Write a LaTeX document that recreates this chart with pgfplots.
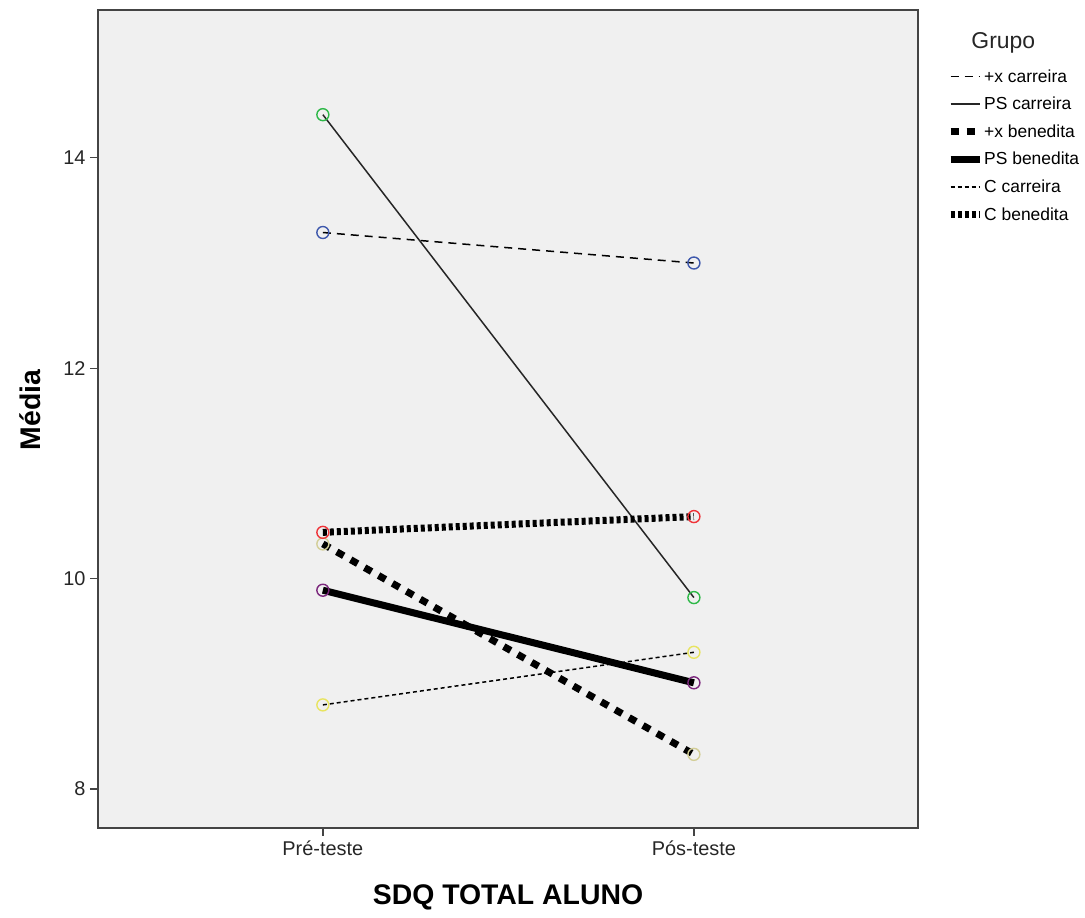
\documentclass[border=0pt]{standalone}
\usepackage{fontspec}
\setmainfont{Liberation Sans}
\usepackage{pgfplots}
\pgfplotsset{compat=1.18}
\definecolor{bgc}{HTML}{F0F0F0}
\definecolor{cblue}{HTML}{3E58AC}
\definecolor{cgreen}{HTML}{2EB848}
\definecolor{cbeige}{HTML}{D3CE97}
\definecolor{cpurple}{HTML}{7C287D}
\definecolor{cyellow}{HTML}{E8E460}
\definecolor{cred}{HTML}{EF3338}
\definecolor{axc}{HTML}{444444}
\begin{document}
\begin{tikzpicture}[x=1bp,y=1bp]
\path[use as bounding box] (0,0) rectangle (1085,918);
\begin{axis}[
  at={(98bp,90bp)}, anchor=south west, scale only axis,
  width=820bp, height=818bp,
  xmin=-0.606, xmax=1.604, ymin=7.63, ymax=15.405,
  xtick={0,1}, xticklabels={Pré-teste,Pós-teste},
  ytick={8,10,12,14},
  xtick pos=bottom, ytick pos=left,
  tick align=outside, major tick length=8bp,
  tick style={line width=1.3bp, color=axc},
  axis line style={line width=1.6bp, color=axc},
  axis background/.style={fill=bgc},
  ticklabel style={font=\fontsize{20}{22}\selectfont, color=black!85},
  /pgf/number format/assume math mode=true,
  xticklabel style={yshift=-1bp},
  yticklabel style={xshift=-1bp},
  xlabel={SDQ TOTAL ALUNO}, ylabel={Média},
  label style={font=\fontsize{28.5}{32}\selectfont\bfseries},
  xlabel style={at={(axis description cs:0.5,-0.085)}, anchor=center},
  ylabel style={at={(axis description cs:-0.083,0.511)}, anchor=center},
  clip=false,
  legend cell align=left,
  legend image code/.code={\draw[#1] (0bp,5.5bp) -- (29bp,5.5bp);},
  legend style={at={(axis description cs:1,1)}, anchor=north west,
    xshift=29bp, yshift=-58bp, draw=none, fill=none, inner sep=0pt,
    font=\fontsize{17.5}{19}\selectfont, row sep=0pt,
    nodes={inner xsep=1bp, inner ysep=0pt, text height=14bp, text depth=13.6bp, anchor=west}},
  every axis plot/.append style={mark=o, mark size=6bp},
]
\addplot[black, line width=1.5bp, dash pattern=on 8bp off 6bp,
  mark options={solid, draw=cblue, line width=1.4bp}]
  coordinates {(0,13.29) (1,13.00)};
\addlegendentry{+x carreira}
\addplot[black!85, line width=1.5bp,
  mark options={solid, draw=cgreen, line width=1.4bp}]
  coordinates {(0,14.41) (1,9.82)};
\addlegendentry{PS carreira}
\addplot[black, line width=7bp, dash pattern=on 8bp off 8bp,
  mark options={solid, draw=cbeige, line width=1.4bp}]
  coordinates {(0,10.33) (1,8.33)};
\addlegendentry{+x benedita}
\addplot[black, line width=7bp,
  mark options={solid, draw=cpurple, line width=1.4bp}]
  coordinates {(0,9.89) (1,9.01)};
\addlegendentry{PS benedita}
\addplot[black, line width=1.5bp, dash pattern=on 4bp off 3bp,
  mark options={solid, draw=cyellow, line width=1.4bp}]
  coordinates {(0,8.80) (1,9.30)};
\addlegendentry{C carreira}
\addplot[black, line width=7bp, dash pattern=on 4bp off 3bp,
  mark options={solid, draw=cred, line width=1.4bp}]
  coordinates {(0,10.44) (1,10.59)};
\addlegendentry{C benedita}
\node[font=\fontsize{23}{25}\selectfont, color=black!85] at (axis description cs:1.104,0.96) {Grupo};
\end{axis}
\end{tikzpicture}
\end{document}
